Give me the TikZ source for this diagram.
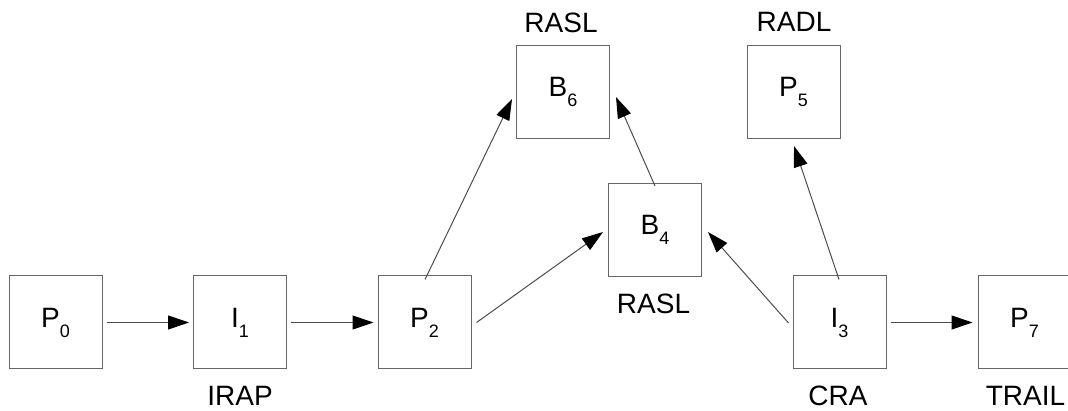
\documentclass[tikz,border=0pt]{standalone}
\usepackage{fontspec}
\setmainfont{Liberation Sans}
\usetikzlibrary{arrows.meta,calc}

% picture name with a lowered index, e.g. P_2
\newcommand\pic[2]{#1\raisebox{-10pt}{\fontsize{18}{18}\selectfont #2}}

\tikzset{
  picbox/.style={draw=black!60, line width=1pt, minimum size=93pt,
    inner sep=0pt, font=\fontsize{28}{28}\selectfont},
  typelabel/.style={anchor=base, inner sep=0pt, font=\fontsize{28}{28}\selectfont},
  ref/.style={draw=black!70, line width=1pt,
    -{Triangle[length=21pt,width=14pt,color=black]}}
}

\begin{document}
\begin{tikzpicture}[x=1pt,y=-1pt]
  \useasboundingbox (0,0) rectangle (1068,411);

  % pictures in decoding structure
  \node[picbox] (P0) at (55.5,322.5)  {\pic{P}{0}};
  \node[picbox] (I1) at (240,322.5)   {\pic{I}{1}};
  \node[picbox] (P2) at (424.5,322.5) {\pic{P}{2}};
  \node[picbox] (B4) at (655,230)     {\pic{B}{4}};
  \node[picbox] (B6) at (563,92)      {\pic{B}{6}};
  \node[picbox] (I3) at (839.5,322.5) {\pic{I}{3}};
  \node[picbox] (P5) at (793.5,92)    {\pic{P}{5}};
  \node[picbox] (P7) at (1024.5,322.5){\pic{P}{7}};

  % picture types
  \node[typelabel] (lI1) at (240,406)   {IRAP};
  \node[typelabel] (lB6) at (561,33)    {RASL};
  \node[typelabel] (lB4) at (653.5,314) {RASL};
  \node[typelabel] (lP5) at (794,32)    {RADL};
  \node[typelabel] (lI3) at (838,406)   {CRA};
  \node[typelabel] (lP7) at (1025.5,406){TRAIL};

  % reference arrows
  \draw[ref] ($(P0.east)+(4,0)$) -- ($(I1.west)+(-4,0)$);
  \draw[ref] ($(I1.east)+(4,0)$) -- ($(P2.west)+(-4,0)$);
  \draw[ref] ($(P2.north)+(0.5,4)$) -- ($(B6.west)+(-4,7)$);
  \draw[ref] ($(P2.east)+(5,0)$) -- ($(B4.west)+(-5,2)$);
  \draw[ref] ($(B4.north)+(0,3)$) -- ($(B6.east)+(6,5)$);
  \draw[ref] ($(I3.west)+(-4,0.5)$) -- ($(B4.east)+(6,2)$);
  \draw[ref] ($(I3.north)+(-0.5,4)$) -- ($(P5.south)+(0.5,7)$);
  \draw[ref] ($(I3.east)+(4,0)$) -- ($(P7.west)+(-5,0)$);
\end{tikzpicture}
\end{document}
